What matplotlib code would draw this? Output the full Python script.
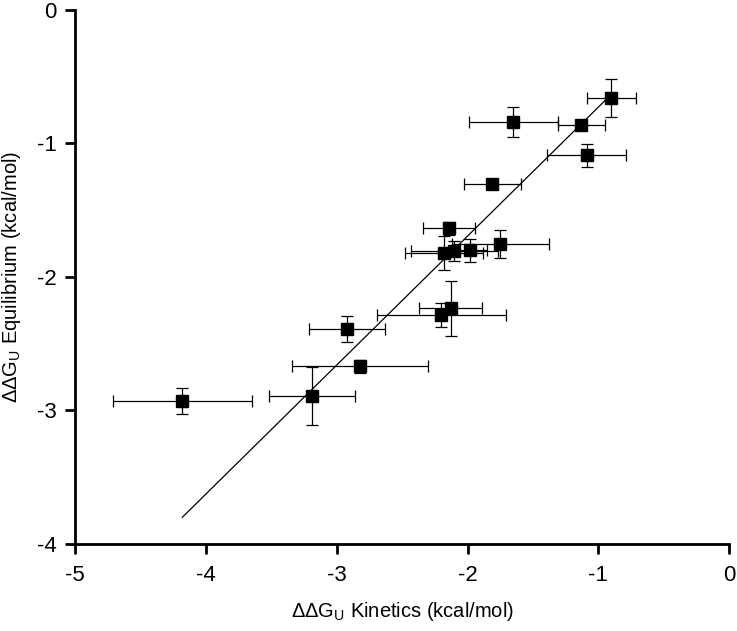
import numpy as np
import matplotlib
matplotlib.use('Agg')
import matplotlib.pyplot as plt

plt.rcParams['font.family'] = ['Liberation Sans', 'DejaVu Sans']
plt.rcParams['mathtext.fontset'] = 'custom'
plt.rcParams['mathtext.rm'] = 'Liberation Sans'

# ddG kinetics (x) vs ddG equilibrium (y), kcal/mol
kin = [-0.90, -1.13, -1.09, -1.65, -1.81, -2.14, -2.18, -2.10, -1.98, -1.75,
       -2.13, -2.20, -2.92, -2.82, -3.19, -4.18]
kin_err = [0.19, 0.18, 0.30, 0.34, 0.22, 0.20, 0.30, 0.33, 0.13, 0.37,
           0.24, 0.49, 0.29, 0.52, 0.33, 0.53]
equ = [-0.66, -0.86, -1.09, -0.84, -1.30, -1.635, -1.82, -1.805, -1.80, -1.75,
       -2.235, -2.285, -2.39, -2.67, -2.89, -2.93]
equ_err = [0.14, 0.03, 0.085, 0.115, 0.03, 0.05, 0.13, 0.076, 0.086, 0.105,
           0.206, 0.088, 0.095, 0.05, 0.217, 0.099]

# fitted line end points
fit_x = [-4.18, -0.92]
fit_y = [-3.80, -0.65]

fig = plt.figure(figsize=(7.37, 6.31), dpi=100)
ax = fig.add_axes([0.1018, 0.1379, 0.8877, 0.8463])

ax.plot(fit_x, fit_y, color='black', lw=0.9)
ax.errorbar(kin, equ, xerr=kin_err, yerr=equ_err, fmt='s', color='black',
            ms=8.5, ecolor='black', elinewidth=0.9, capsize=4.5, capthick=0.9)

ax.set_xlim(-5, 0)
ax.set_ylim(-4, 0)
ax.set_xticks([-5, -4, -3, -2, -1, 0])
ax.set_yticks([-4, -3, -2, -1, 0])
ax.set_xticklabels(['-5', '-4', '-3', '-2', '-1', '0'])
ax.set_yticklabels(['-4', '-3', '-2', '-1', '0'])

for s in ['top', 'right']:
    ax.spines[s].set_visible(False)
for s in ['left', 'bottom']:
    ax.spines[s].set_linewidth(2)
ax.tick_params(direction='out', length=7, width=2, labelsize=16)
ax.tick_params(axis='x', pad=8)
ax.tick_params(axis='y', pad=6)

ax.set_xlabel(r'ΔΔG$_\mathregular{U}$ Kinetics (kcal/mol)', fontsize=14.5, labelpad=10)
ax.set_ylabel(r'ΔΔG$_\mathregular{U}$ Equilibrium (kcal/mol)', fontsize=14.5, labelpad=10)

fig.savefig('out.png', dpi=100)
